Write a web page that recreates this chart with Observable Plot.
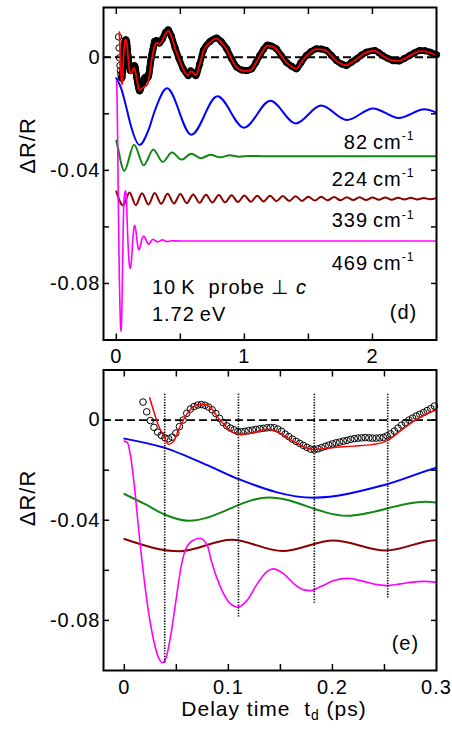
<!DOCTYPE html>
<html><head><meta charset="utf-8">
<script src="https://cdn.jsdelivr.net/npm/d3@7"></script>
<script src="https://cdn.jsdelivr.net/npm/@observablehq/plot@0.6"></script>
<style>
body{margin:0;background:#fff;}
#chart{width:452px;}
#chart svg{display:block;}
</style></head><body><div id="chart"></div>
<script>
// ---------- data ----------
// measured ΔR/R (open circles)
const dataT = [0.018,0.0215,0.025,0.0285,0.032,0.0355,0.039,0.0425,0.046,0.0495,0.053,0.0565,0.06,0.0635,0.067,0.0705,0.074,0.0775,0.081,0.0845,0.088,0.0915,0.095,0.0985,0.102,0.1055,0.109,0.1125,0.116,0.1195,0.123,0.1265,0.13,0.1335,0.137,0.1405,0.144,0.1475,0.151,0.1545,0.158,0.1615,0.165,0.1685,0.172,0.1755,0.179,0.1825,0.186,0.1895,0.193,0.1965,0.2,0.2035,0.207,0.2105,0.214,0.2175,0.221,0.2245,0.228,0.2315,0.235,0.2385,0.242,0.2455,0.249,0.2525,0.256,0.2595,0.263,0.2665,0.27,0.2735,0.277,0.2805,0.284,0.2875,0.291,0.2945,0.298,
 0.315,0.336,0.36,0.385,0.406,0.43,0.458,0.49,0.523,0.5625,0.58,0.6,0.62,0.65,0.68,0.73,0.784,0.82,0.862,0.9,0.94,0.98,1.018,1.057,1.09,1.12,1.15,1.18,1.21,1.25,1.29,1.328,1.37,1.406,1.44,1.484,1.52,1.5625,1.6,1.64,1.68,1.72,1.76,1.797,1.835,1.875,1.915,1.953,2.018,2.05,2.08,2.12,2.16,2.21,2.25,2.29,2.33,2.37,2.41,2.45,2.5];
const dataY = [0.0072,0.0033,-0.0002,-0.0029,-0.0048,-0.0061,-0.0071,-0.0074,-0.0068,-0.0052,-0.0026,0.0000,0.0027,0.0044,0.0054,0.0060,0.0062,0.0059,0.0052,0.0041,0.0026,0.0007,-0.0010,-0.0023,-0.0032,-0.0039,-0.0046,-0.0047,-0.0045,-0.0042,-0.0040,-0.0037,-0.0035,-0.0033,-0.0031,-0.0030,-0.0031,-0.0036,-0.0045,-0.0056,-0.0066,-0.0076,-0.0085,-0.0093,-0.0101,-0.0109,-0.0116,-0.0119,-0.0115,-0.0110,-0.0105,-0.0100,-0.0095,-0.0091,-0.0088,-0.0084,-0.0081,-0.0077,-0.0074,-0.0072,-0.0071,-0.0070,-0.0071,-0.0072,-0.0072,-0.0071,-0.0069,-0.0063,-0.0055,-0.0044,-0.0032,-0.0020,-0.0010,0.0000,0.0008,0.0016,0.0023,0.0030,0.0038,0.0046,0.0056,
 0.0059,0.0050,0.0065,0.0088,0.0097,0.0075,0.0035,-0.0005,-0.0041,-0.0065,-0.0048,-0.0055,-0.0065,-0.0025,0.0025,0.0055,0.0068,0.0055,0.0030,-0.0005,-0.0035,-0.0045,-0.0047,-0.0041,-0.0018,0.0006,0.0028,0.0043,0.0040,0.0030,0.0005,-0.0018,-0.0032,-0.0041,-0.0020,0.0006,0.0020,0.0030,0.0029,0.0024,0.0006,-0.0012,-0.0024,-0.0029,-0.0018,-0.0006,0.0008,0.0018,0.0024,0.0016,0.0006,-0.0004,-0.0012,-0.0013,-0.0004,0.0006,0.0016,0.0024,0.0023,0.0018,0.0009];
// fit (red)
const fitT = [0.0244,0.0282,0.033,0.0378,0.0426,0.0475,0.0523,0.06,0.0651,0.0715,0.078,0.0844,0.089,0.0956,0.102,0.1117,0.124,0.137,0.146,0.162,0.1816,0.2,0.22,0.239,0.252,0.265,0.281,0.297,
 0.315,0.336,0.36,0.385,0.406,0.43,0.458,0.49,0.523,0.56,0.58,0.6,0.62,0.65,0.68,0.73,0.784,0.82,0.862,0.9,0.94,0.98,1.018,1.057,1.09,1.12,1.15,1.18,1.21,1.25,1.29,1.328,1.37,1.406,1.44,1.484,1.52,1.5625,1.6,1.64,1.68,1.72,1.76,1.797,1.835,1.875,1.915,1.953,2.018,2.05,2.08,2.12,2.16,2.21,2.25,2.29,2.33,2.37,2.41,2.45,2.5];
const fitY = [0.0089,0.0036,-0.0024,-0.0064,-0.0097,-0.0084,-0.0037,0.0023,0.0049,0.0062,0.0062,0.0043,0.0016,-0.0017,-0.0044,-0.0057,-0.0051,-0.0037,-0.0045,-0.0084,-0.0117,-0.0110,-0.0104,-0.0097,-0.0084,-0.0044,0.0003,0.0036,
 0.0052,0.0046,0.0060,0.0083,0.0093,0.0074,0.0033,-0.0007,-0.0043,-0.0064,-0.0050,-0.0054,-0.0064,-0.0027,0.0022,0.0052,0.0066,0.0053,0.0028,-0.0007,-0.0036,-0.0046,-0.0048,-0.0042,-0.0019,0.0005,0.0027,0.0042,0.0039,0.0029,0.0004,-0.0019,-0.0033,-0.0041,-0.0021,0.0005,0.0019,0.0029,0.0028,0.0023,0.0005,-0.0013,-0.0024,-0.0029,-0.0019,-0.0007,0.0007,0.0017,0.0023,0.0015,0.0005,-0.0005,-0.0012,-0.0013,-0.0005,0.0005,0.0015,0.0022,0.0021,0.0016,0.0008];
// 82 cm-1 component (blue)
const blueT = [0,0.038,0.085,0.11,0.182,0.25,0.3,0.396,0.586,0.789,0.997,1.203,1.401,1.599,1.8,2.005,2.206,2.406,2.5];
const blueY = [-0.0074,-0.011,-0.019,-0.0236,-0.031,-0.0259,-0.019,-0.011,-0.0274,-0.0138,-0.0249,-0.0154,-0.0234,-0.0171,-0.0222,-0.0181,-0.0215,-0.0184,-0.0196];
// 224 cm-1 component (green)
const greenT = [0,0.02,0.038,0.062,0.139,0.214,0.289,0.362,0.435,0.51,0.585,0.66,0.735,0.81,0.885,0.96,1.04,1.15,2.5];
const greenY = [-0.0295,-0.0336,-0.0376,-0.0402,-0.0309,-0.0382,-0.0326,-0.037,-0.0337,-0.0362,-0.0341,-0.0357,-0.0345,-0.0354,-0.0347,-0.0352,-0.0349,-0.035,-0.035];
// 339 cm-1 component (dark red)
const maroonT = [0,0.053,0.103,0.152,0.201,0.251,0.3,0.35,0.4,0.45,0.5,0.55,0.6,0.65,0.7,0.75,0.8,0.85,0.9,0.95,1.0,1.05,1.1,1.15,1.2,1.25,1.3,1.35,1.4,1.45,1.5,1.55,1.6,1.65,1.7,1.75,1.8,1.85,1.9,1.95,2.0,2.05,2.1,2.15,2.2,2.25,2.3,2.35,2.4,2.45,2.5];
const maroonY = [-0.0475,-0.0524,-0.0478,-0.0523,-0.0481,-0.0521,-0.048,-0.0518,-0.0483,-0.0517,-0.0484,-0.0516,-0.0485,-0.0515,-0.0486,-0.0514,-0.0487,-0.0513,-0.0488,-0.0512,-0.0489,-0.0511,-0.049,-0.051,-0.049,-0.0509,-0.0491,-0.0508,-0.0492,-0.0508,-0.0493,-0.0507,-0.0493,-0.0506,-0.0494,-0.0506,-0.0495,-0.0505,-0.0495,-0.0505,-0.0496,-0.0504,-0.0496,-0.0504,-0.0497,-0.0503,-0.0497,-0.0503,-0.0498,-0.0502,-0.0498];
// 469 cm-1 component (magenta)
const magentaT = [0,0.003,0.006,0.0093,0.0125,0.0157,0.019,0.0238,0.0286,0.0334,0.0366,0.0398,0.0446,0.0494,0.0542,0.059,0.0654,0.0725,0.0799,0.0835,0.0924,0.102,0.109,0.118,0.1277,0.1373,0.143,0.1533,0.163,0.1726,0.179,0.1886,0.2015,0.2143,0.2271,0.2432,0.2528,0.2656,0.2817,0.29,0.3009,0.325,0.36,0.395,0.43,0.5,2.5];
const magentaY = [-0.0084,-0.009,-0.0143,-0.025,-0.0382,-0.0515,-0.0634,-0.078,-0.0887,-0.0953,-0.0969,-0.0953,-0.086,-0.0727,-0.0594,-0.0515,-0.0482,-0.0472,-0.0502,-0.0561,-0.0667,-0.0734,-0.0747,-0.072,-0.0654,-0.0604,-0.0594,-0.0614,-0.0654,-0.0678,-0.0681,-0.0665,-0.0641,-0.0632,-0.0641,-0.0657,-0.0661,-0.0654,-0.0645,-0.0644,-0.0648,-0.0653,-0.0646,-0.0652,-0.0649,-0.065,-0.065];
// dotted guide lines in panel (e)
const guideT = [0.0388,0.1097,0.1826,0.2531];
const guideTop = [0.0103,0.0103,0.0103,0.0103];
const guideBottom = [-0.0973,-0.0787,-0.0731,-0.0714];
// labels
const modeLabels = ["82\u2009cm^{-1}","224\u2009cm^{-1}","339\u2009cm^{-1}","469\u2009cm^{-1}"];
const modeLabelY = [-0.0301,-0.0431,-0.0579,-0.0729];
const infoLabels = ["10\u2009K\u00a0\u00a0probe\u00a0\u22a5\u00a0*{c}","1.72\u2009eV"];
const infoLabelY = [-0.0816,-0.091];
const yTicks = [0,-0.02,-0.04,-0.06,-0.08];
const yTickLabels = [0,-0.04,-0.08];
const xTicksD = [0,0.5,1,1.5,2];
const xLabelsD = [0,1,2];
const xTicksE = [0,0.05,0.1,0.15,0.2,0.25];
const xLabelsE = [0,0.1,0.2,0.3];

// ---------- build ----------
const FONT = "'Liberation Sans', Arial, Helvetica, sans-serif";
const rows = (T, Y) => T.map((t, i) => ({t, v: Y[i]}));
const seriesData = rows(dataT, dataY), seriesFit = rows(fitT, fitY);
const comps = [
  {d: rows(blueT, blueY), c: "#0000ff", w: 2},
  {d: rows(greenT, greenY), c: "#118811", w: 2},
  {d: rows(maroonT, maroonY), c: "#8b0000", w: 2},
  {d: rows(magentaT, magentaY), c: "#ff00ff", w: 1.6}
];
const fmt = d => d === 0 ? "0" : String(d);

function axes(xt, xl, yt, yl) {
  const tk = {tickSize: -6, tickFormat: () => "", label: null, strokeWidth: 1.5};
  return [
    Plot.axisX(xt, {anchor: "bottom", ...tk}),
    Plot.axisX(xt, {anchor: "top", ...tk}),
    Plot.axisY(yt, {anchor: "left", ...tk}),
    Plot.axisY(yt, {anchor: "right", ...tk}),
    Plot.axisX(xl, {anchor: "bottom", tickSize: 0, tickPadding: 9, tickFormat: fmt, label: null, fontSize: 20}),
    Plot.axisY(yl, {anchor: "left", tickSize: 0, tickPadding: 3, tickFormat: fmt, label: null, fontSize: 20})
  ];
}
const compMarks = () => comps.map(s => Plot.line(s.d, {x: "t", y: "v", stroke: s.c, strokeWidth: s.w, curve: "monotone-x", clip: true}));
const plotStyle = {fontFamily: FONT, fontSize: "20px", letterSpacing: "1px", background: "white", overflow: "visible", color: "black"};

const panelD = Plot.plot({
  width: 452, height: 365, marginLeft: 103, marginRight: 16, marginTop: 7, marginBottom: 25.5,
  style: plotStyle,
  x: {domain: [-0.1, 2.5]},
  y: {domain: [-0.1, 0.0176]},
  marks: [
    ...compMarks(),
    Plot.ruleY([0], {stroke: "black", strokeWidth: 1.8, strokeDasharray: "8,4"}),
    Plot.line(seriesData, {filter: d => d.t >= 0.04, x: "t", y: "v", stroke: "black", strokeWidth: 6.5, curve: "monotone-x"}),
    Plot.dot(seriesData, {x: "t", y: "v", r: 3.2, stroke: "black", strokeWidth: 1, fill: "none"}),
    Plot.line(seriesFit, {x: "t", y: "v", stroke: "#ff0000", strokeWidth: 1.8, curve: "monotone-x"}),
    Plot.text(modeLabels, {x: 2.33, y: modeLabelY, text: d => d, textAnchor: "end", fontSize: 20}),
    Plot.text(infoLabels, {x: 0.278, y: infoLabelY, text: d => d, textAnchor: "start", fontSize: 20}),
    Plot.text(["(d)"], {x: 2.35, y: -0.0904, text: d => d, textAnchor: "end", fontSize: 20}),
    Plot.text(["\u0394R/R"], {frameAnchor: "left", dx: -76, rotate: -90, text: d => d, fontSize: 22}),
    ...axes(xTicksD, xLabelsD, yTicks, yTickLabels),
    Plot.frame({stroke: "black", strokeWidth: 2})
  ]
});

const panelE = Plot.plot({
  width: 452, height: 364, marginLeft: 103, marginRight: 16, marginTop: 4.5, marginBottom: 59,
  style: plotStyle,
  x: {domain: [-0.02, 0.3]},
  y: {domain: [-0.1, 0.02]},
  marks: [
    ...compMarks(),
    Plot.ruleY([0], {stroke: "black", strokeWidth: 1.8, strokeDasharray: "8,4"}),
    Plot.ruleX(guideT, {x: d => d, y1: guideTop, y2: guideBottom, stroke: "black", strokeWidth: 1.6, strokeDasharray: "1.3,1.4"}),
    Plot.dot(seriesData, {filter: d => d.t <= 0.3, x: "t", y: "v", r: 3.3, stroke: "black", strokeWidth: 1, fill: "none"}),
    Plot.line(seriesFit, {x: "t", y: "v", stroke: "#ff0000", strokeWidth: 1.5, curve: "monotone-x", clip: true}),
    Plot.text(["(e)"], {x: 0.2833, y: -0.0893, text: d => d, textAnchor: "end", fontSize: 20}),
    Plot.text(["\u0394R/R"], {frameAnchor: "left", dx: -76, dy: 6, rotate: -90, text: d => d, fontSize: 22}),
    Plot.text(["Delay time\u00a0\u00a0t_{d} (ps)"], {frameAnchor: "bottom", dx: 4, dy: 45, text: d => d, fontSize: 21}),
    ...axes(xTicksE, xLabelsE, yTicks, yTickLabels),
    Plot.frame({stroke: "black", strokeWidth: 2})
  ]
});

const host = document.getElementById("chart");
host.append(panelD, panelE);

// rich text: ^{sup}, _{sub}, *{italic}
function richify(svg) {
  const NS = "http://www.w3.org/2000/svg";
  svg.querySelectorAll("text").forEach(el => {
    const s = el.textContent;
    if (!/[\^_*]\{/.test(s)) return;
    const base = parseFloat(getComputedStyle(el).fontSize) || 20;
    while (el.firstChild) el.removeChild(el.firstChild);
    const re = /([\^_*])\{([^}]*)\}/g;
    let last = 0, m, shift = 0;
    const add = (txt, kind) => {
      if (!txt) return;
      const ts = document.createElementNS(NS, "tspan");
      ts.textContent = txt;
      let target = 0;
      if (kind === "^") { target = -0.42 * base; ts.setAttribute("font-size", (0.62 * base) + "px"); }
      else if (kind === "_") { target = 0.22 * base; ts.setAttribute("font-size", (0.66 * base) + "px"); }
      else if (kind === "*") ts.setAttribute("font-style", "italic");
      if (target !== shift) { ts.setAttribute("dy", target - shift); shift = target; }
      el.appendChild(ts);
    };
    while ((m = re.exec(s))) { add(s.slice(last, m.index), ""); add(m[2], m[1]); last = re.lastIndex; }
    add(s.slice(last), "");
  });
}
richify(panelD); richify(panelE);
</script>
</body></html>
